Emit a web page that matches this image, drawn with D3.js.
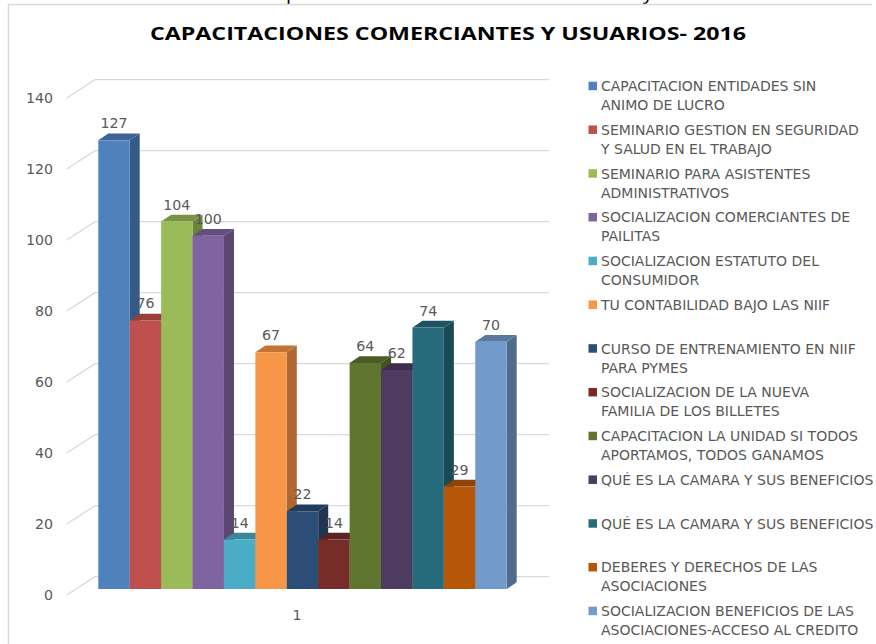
<!DOCTYPE html>
<html><head><meta charset="utf-8">
<script src="https://cdn.jsdelivr.net/npm/d3@7"></script>
<style>body{margin:0;background:#fff;} svg{display:block}</style>
</head><body>
<svg id="c" width="876" height="644"></svg>
<script>
const categories = ["1"];
const seriesNames = [
  "CAPACITACION ENTIDADES SIN ANIMO DE LUCRO",
  "SEMINARIO GESTION EN SEGURIDAD Y SALUD EN EL TRABAJO",
  "SEMINARIO PARA ASISTENTES ADMINISTRATIVOS",
  "SOCIALIZACION COMERCIANTES DE PAILITAS",
  "SOCIALIZACION ESTATUTO DEL CONSUMIDOR",
  "TU CONTABILIDAD BAJO LAS NIIF",
  "CURSO DE ENTRENAMIENTO EN NIIF PARA PYMES",
  "SOCIALIZACION DE LA NUEVA FAMILIA DE LOS BILLETES",
  "CAPACITACION LA UNIDAD SI TODOS APORTAMOS, TODOS GANAMOS",
  "QUÉ ES LA CAMARA Y SUS BENEFICIOS",
  "QUÉ ES LA CAMARA Y SUS BENEFICIOS ",
  "DEBERES Y DERECHOS DE LAS ASOCIACIONES",
  "SOCIALIZACION BENEFICIOS DE LAS ASOCIACIONES-ACCESO AL CREDITO"
];
const legendLines = [
  ["CAPACITACION ENTIDADES SIN", "ANIMO DE LUCRO"],
  ["SEMINARIO GESTION EN SEGURIDAD", "Y SALUD EN EL TRABAJO"],
  ["SEMINARIO PARA ASISTENTES", "ADMINISTRATIVOS"],
  ["SOCIALIZACION COMERCIANTES DE", "PAILITAS"],
  ["SOCIALIZACION ESTATUTO DEL", "CONSUMIDOR"],
  ["TU CONTABILIDAD BAJO LAS NIIF"],
  ["CURSO DE ENTRENAMIENTO EN NIIF", "PARA PYMES"],
  ["SOCIALIZACION DE LA NUEVA", "FAMILIA DE LOS BILLETES"],
  ["CAPACITACION LA UNIDAD SI TODOS", "APORTAMOS, TODOS GANAMOS"],
  ["QUÉ ES LA CAMARA Y SUS BENEFICIOS"],
  ["QUÉ ES LA CAMARA Y SUS BENEFICIOS"],
  ["DEBERES Y DERECHOS DE LAS", "ASOCIACIONES"],
  ["SOCIALIZACION BENEFICIOS DE LAS", "ASOCIACIONES-ACCESO AL CREDITO"]
];
const values = [127, 76, 104, 100, 14, 67, 22, 14, 64, 62, 74, 29, 70];
const colors = ["#4F81BD","#C0504D","#9BBB59","#8064A2","#4BACC6","#F79646",
                "#2C4D75","#772C2A","#5F7530","#4D3B62","#276A7C","#B65708","#729ACA"];
const yTicks = [0, 20, 40, 60, 80, 100, 120, 140];
const titleText = "CAPACITACIONES COMERCIANTES Y USUARIOS- 2016";

const svg = d3.select("#c");
const grey = "#595959";
const numFont = "'DejaVu Sans', sans-serif";

// fragments of the preceding document line (only descenders visible)
svg.append("text").attr("x", 286).attr("y", -1).style("font-family", "'Open Sans'").style("font-size", "20px").attr("fill", "#000").text("p");
svg.append("text").attr("x", 643).attr("y", -1).style("font-family", "'Open Sans'").style("font-size", "20px").attr("fill", "#000").text("y");

// chart frame
svg.append("path").attr("d", "M8.5,644 V4.5 H872")
  .attr("fill", "none").attr("stroke", "#d9d9d9").attr("stroke-width", 1.5);

// title
svg.append("text").attr("x", 150).attr("y", 39.5)
  .attr("textLength", 596).attr("lengthAdjust", "spacingAndGlyphs")
  .style("font-family", "'Open Sans', sans-serif").style("font-weight", "bold").style("font-size", "17px")
  .attr("fill", "#000").text(titleText);

// scales
const wallBase = 576.7, wallTop = 79.7;
const depthX = 28.3, depthY = 18.3;
const yWall = d3.scaleLinear().domain([0, 140]).range([wallBase, wallTop]);
const yLabel = d3.scaleLinear().domain([0, 140]).range([wallBase + depthY, wallTop + depthY]);
const frontBase = 589;
const yBar = d3.scaleLinear().domain([0, 140]).range([frontBase, frontBase - 140 * 3.533]);
const x0 = d3.scaleBand().domain(categories).range([98.3, 506.7]).padding(0);
const x1 = d3.scaleBand().domain(d3.range(values.length)).range([0, x0.bandwidth()]).padding(0);

// gridlines (side wall diagonal + back wall horizontal)
svg.append("g").selectAll("path").data(yTicks).join("path")
  .attr("d", t => `M66.7,${yLabel(t)} L95,${yWall(t)} H549`)
  .attr("fill", "none").attr("stroke", "#d9d9d9").attr("stroke-width", 1.3);

// y axis labels
const ax = svg.append("g").attr("transform", "translate(53,0)")
  .call(d3.axisLeft(yLabel).tickValues(yTicks).tickSize(0).tickPadding(0));
ax.select(".domain").remove();
ax.selectAll("text").style("font-family", numFont).style("font-size", "14.2px").attr("fill", grey);

// bars
const dX = 10, dY = 6.7;
const bars = svg.append("g");
values.forEach((v, i) => {
  const x = x0("1") + x1(i), w = x1.bandwidth(), yt = yBar(v), yb = yBar(0);
  const c = d3.color(colors[i]);
  const g = bars.append("g");
  g.append("path")
    .attr("d", `M${x + w},${yt} L${x + w + dX},${yt - dY} L${x + w + dX},${yb - dY} L${x + w},${yb} Z`)
    .attr("fill", c.darker(1.0).formatHex());
  g.append("path")
    .attr("d", `M${x},${yt} L${x + dX},${yt - dY} L${x + w + dX},${yt - dY} L${x + w},${yt} Z`)
    .attr("fill", c.darker(0.7).formatHex());
  g.append("rect").attr("x", x).attr("y", yt).attr("width", w).attr("height", yb - yt)
    .attr("fill", colors[i]);
});

// data labels
svg.append("g").selectAll("text").data(values).join("text")
  .attr("x", (v, i) => x0("1") + x1(i) + x1.bandwidth() / 2)
  .attr("y", v => yBar(v) - 12)
  .attr("text-anchor", "middle")
  .style("font-family", numFont).style("font-size", "14.2px").attr("fill", grey)
  .text(v => v);

// category label
svg.append("text").attr("x", x0("1") + x0.bandwidth() / 2 - 5.5).attr("y", 620)
  .attr("text-anchor", "middle")
  .style("font-family", numFont).style("font-size", "14.2px").attr("fill", grey)
  .text(categories[0]);

// legend
const lg = svg.append("g");
legendLines.forEach((lines, i) => {
  const by = 91 + i * 43.75;
  lg.append("rect").attr("x", 588.5).attr("y", by - 9.3).attr("width", 8.5).attr("height", 8.5).attr("fill", colors[i]);
  lines.forEach((ln, j) => {
    lg.append("text").attr("x", 601).attr("y", by + j * 19)
      .style("font-family", numFont).style("font-size", "14px").attr("fill", grey)
      .text(ln);
  });
});
</script>
</body></html>
